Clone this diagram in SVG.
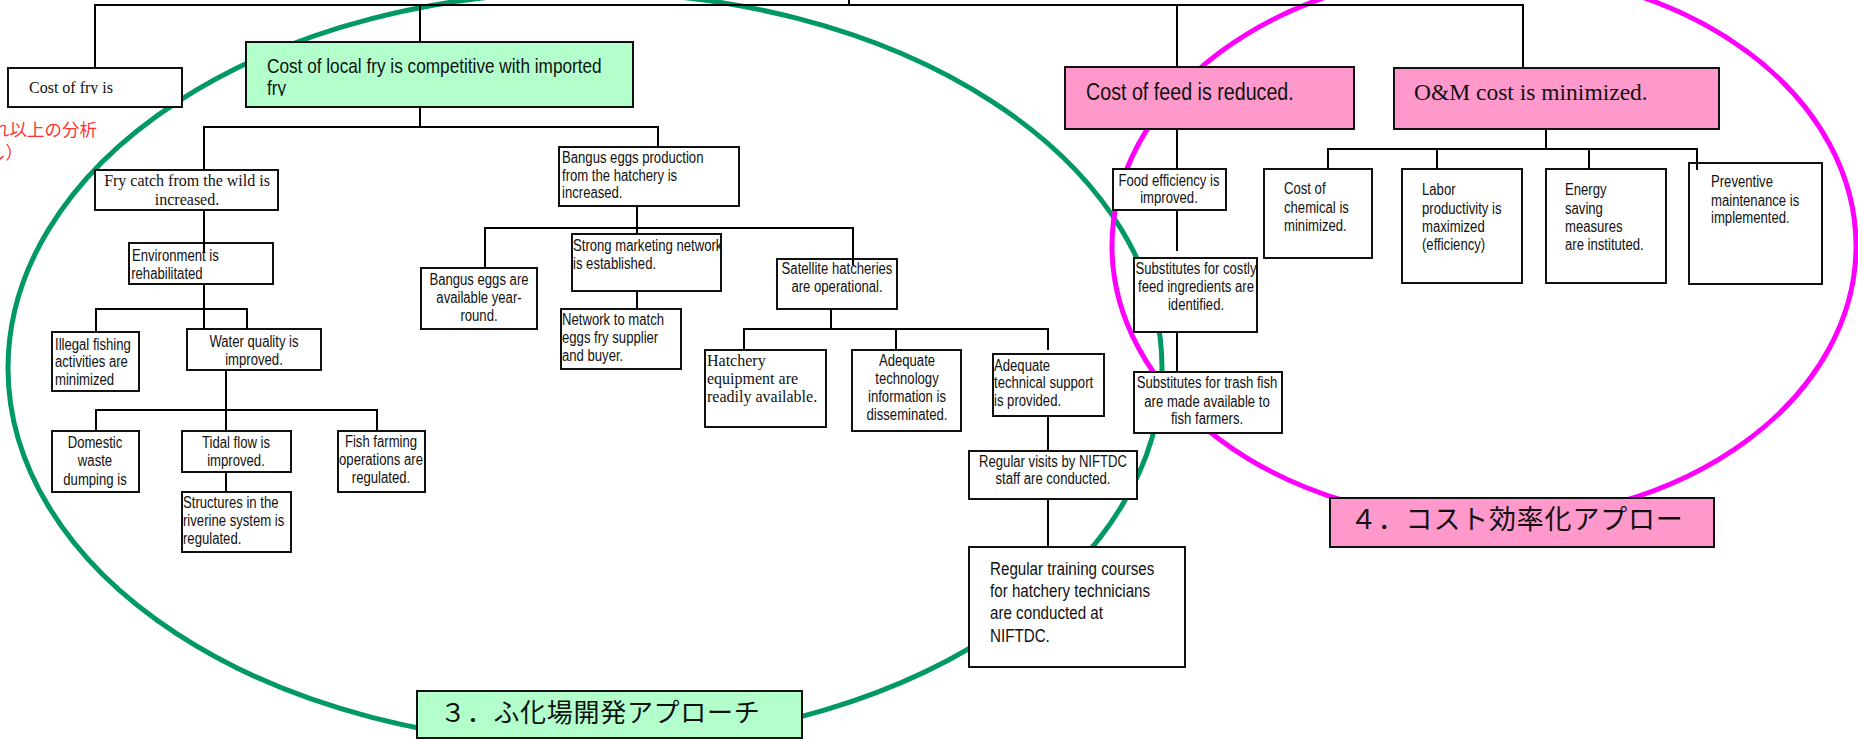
<svg xmlns="http://www.w3.org/2000/svg" width="1858" height="739" viewBox="0 0 1858 739">
<style>
.box{stroke:#111;stroke-width:2;fill:#fff}
.g{fill:#b3ffcc}
.p{fill:#ff99cc}
.c{fill:none;stroke:#000;stroke-width:2}
.n{font-family:"Liberation Sans",Arial,sans-serif;font-size:16px;fill:#111}
.s{font-family:"Liberation Serif","Times New Roman",serif;font-size:16px;fill:#111}
.m{text-anchor:middle}
.j{font-family:"Noto Sans CJK JP",sans-serif}
.el{fill:none;stroke-width:5}
</style>
<defs>
<clipPath id="clipFry1"><rect x="246" y="42" width="387" height="54"/></clipPath>
<clipPath id="clipFry2"><rect x="8" y="68" width="174" height="26"/></clipPath>
</defs>
<g id="approaches">
<ellipse class="el" cx="585" cy="368" rx="577" ry="376" stroke="#009966"/>
<ellipse class="el" cx="1484" cy="246" rx="372" ry="275" stroke="#ff00ff"/>
</g>
<g id="note">
<text class="j" fill="#f33" style="font-size:17.5px"><tspan x="-8" y="136">れ以上の分析</tspan><tspan x="-12" y="159">し）</tspan></text>
</g>
<g id="n-cost-fry"><rect class="box" x="8" y="68" width="174" height="39"/><g clip-path="url(#clipFry2)"><text class="s" x="29" y="93">Cost of fry is</text></g></g>
<g id="n-local-fry"><rect class="box g" x="246" y="42" width="387" height="65"/><g clip-path="url(#clipFry1)"><text class="n" style="font-size:21px" transform="translate(267 73) scale(.82 1)"><tspan x="0" y="0">Cost of local fry is competitive with imported</tspan><tspan x="0" y="22">fry</tspan></text></g></g>
<g id="n-fry-catch"><rect class="box" x="95" y="170" width="183" height="40"/><text class="s m"><tspan x="187" y="186">Fry catch from the wild is</tspan><tspan x="187" y="205">increased.</tspan></text></g>
<g id="n-environment"><rect class="box" x="129" y="243" width="144" height="41"/><text class="n" transform="translate(132 261) scale(.82 1)"><tspan x="0" y="0">Environment is</tspan><tspan x="-1" y="18">rehabilitated</tspan></text></g>
<g id="n-illegal"><rect class="box" x="52" y="332" width="87" height="59"/><text class="n" transform="translate(55 350) scale(.82 1)"><tspan x="0" y="0">Illegal fishing</tspan><tspan x="0" y="17.5">activities are</tspan><tspan x="0" y="35">minimized</tspan></text></g>
<g id="n-water"><rect class="box" x="187" y="329" width="134" height="41"/><text class="n m" transform="translate(254 347) scale(.82 1)"><tspan x="0" y="0">Water quality is</tspan><tspan x="0" y="18">improved.</tspan></text></g>
<g id="n-domestic"><rect class="box" x="52" y="431" width="87" height="61"/><text class="n m" transform="translate(95 448) scale(.82 1)"><tspan x="0" y="0">Domestic</tspan><tspan x="0" y="18.5">waste</tspan><tspan x="0" y="37">dumping is</tspan></text></g>
<g id="n-tidal"><rect class="box" x="182" y="431" width="109" height="41"/><text class="n m" transform="translate(236 448) scale(.82 1)"><tspan x="0" y="0">Tidal flow is</tspan><tspan x="0" y="18.5">improved.</tspan></text></g>
<g id="n-structures"><rect class="box" x="182" y="492" width="109" height="60"/><text class="n" transform="translate(183 508) scale(.82 1)"><tspan x="0" y="0">Structures in the</tspan><tspan x="0" y="18">riverine system is</tspan><tspan x="0" y="36">regulated.</tspan></text></g>
<g id="n-fish-farming"><rect class="box" x="338" y="431" width="87" height="61"/><text class="n m" transform="translate(381 447) scale(.82 1)"><tspan x="0" y="0">Fish farming</tspan><tspan x="0" y="18">operations are</tspan><tspan x="0" y="36">regulated.</tspan></text></g>
<g id="n-bangus-prod"><rect class="box" x="559" y="147" width="180" height="59"/><text class="n" transform="translate(562 163) scale(.82 1)"><tspan x="0" y="0">Bangus eggs production</tspan><tspan x="0" y="18">from the hatchery is</tspan><tspan x="0" y="35">increased.</tspan></text></g>
<g id="n-bangus-avail"><rect class="box" x="421" y="268" width="116" height="61"/><text class="n m" transform="translate(479 285) scale(.82 1)"><tspan x="0" y="0">Bangus eggs are</tspan><tspan x="0" y="18">available year-</tspan><tspan x="0" y="36">round.</tspan></text></g>
<g id="n-strong"><rect class="box" x="572" y="234" width="149" height="57"/><text class="n" transform="translate(573 251) scale(.82 1)"><tspan x="0" y="0">Strong marketing network</tspan><tspan x="0" y="18">is established.</tspan></text></g>
<g id="n-network"><rect class="box" x="561" y="309" width="120" height="60"/><text class="n" transform="translate(562 325) scale(.82 1)"><tspan x="0" y="0">Network to match</tspan><tspan x="0" y="18">eggs fry supplier</tspan><tspan x="0" y="36">and buyer.</tspan></text></g>
<g id="n-satellite"><rect class="box" x="777" y="259" width="120" height="50"/><text class="n m" transform="translate(837 274) scale(.82 1)"><tspan x="0" y="0">Satellite hatcheries</tspan><tspan x="0" y="18">are operational.</tspan></text></g>
<g id="n-hatchery"><rect class="box" x="705" y="350" width="121" height="77"/><text class="s"><tspan x="707" y="366">Hatchery</tspan><tspan x="707" y="384">equipment are</tspan><tspan x="707" y="402">readily available.</tspan></text></g>
<g id="n-adeq-tech"><rect class="box" x="852" y="350" width="109" height="81"/><text class="n m" transform="translate(907 366) scale(.82 1)"><tspan x="0" y="0">Adequate</tspan><tspan x="0" y="18">technology</tspan><tspan x="0" y="36">information is</tspan><tspan x="0" y="54">disseminated.</tspan></text></g>
<g id="n-adeq-support"><rect class="box" x="993" y="354" width="111" height="62"/><text class="n" transform="translate(994 371) scale(.82 1)"><tspan x="0" y="0">Adequate</tspan><tspan x="0" y="17.5">technical support</tspan><tspan x="0" y="35">is provided.</tspan></text></g>
<g id="n-visits"><rect class="box" x="969" y="451" width="168" height="48"/><text class="n m" transform="translate(1053 467) scale(.82 1)"><tspan x="0" y="0">Regular visits by NIFTDC</tspan><tspan x="0" y="17.5">staff are conducted.</tspan></text></g>
<g id="n-training"><rect class="box" x="969" y="547" width="216" height="120"/><text class="n" style="font-size:18.5px" transform="translate(990 575) scale(.82 1)"><tspan x="0" y="0">Regular training courses</tspan><tspan x="0" y="22">for hatchery technicians</tspan><tspan x="0" y="44">are conducted at</tspan><tspan x="0" y="67">NIFTDC.</tspan></text></g>
<g id="n-feed"><rect class="box p" x="1065" y="67" width="289" height="62"/><text class="n" style="font-size:24px" transform="translate(1086 100) scale(.82 1)">Cost of feed is reduced.</text></g>
<g id="n-om"><rect class="box p" x="1394" y="68" width="325" height="61"/><text class="s" style="font-size:23.5px" x="1414" y="100">O&amp;M cost is minimized.</text></g>
<g id="n-food"><rect class="box" x="1113" y="169" width="113" height="41"/><text class="n m" transform="translate(1169 186) scale(.82 1)"><tspan x="0" y="0">Food efficiency is</tspan><tspan x="0" y="17.5">improved.</tspan></text></g>
<g id="n-subst-costly"><rect class="box" x="1134" y="258" width="123" height="74"/><text class="n m" transform="translate(1196 274) scale(.82 1)"><tspan x="0" y="0">Substitutes for costly</tspan><tspan x="0" y="18">feed ingredients are</tspan><tspan x="0" y="36">identified.</tspan></text></g>
<g id="n-subst-trash"><rect class="box" x="1134" y="372" width="148" height="61"/><text class="n m" transform="translate(1207 388) scale(.82 1)"><tspan x="0" y="0">Substitutes for trash fish</tspan><tspan x="0" y="19">are made available to</tspan><tspan x="0" y="36">fish farmers.</tspan></text></g>
<g id="n-chemical"><rect class="box" x="1264" y="169" width="108" height="89"/><text class="n" transform="translate(1284 194) scale(.82 1)"><tspan x="0" y="0">Cost of</tspan><tspan x="0" y="19">chemical is</tspan><tspan x="0" y="37">minimized.</tspan></text></g>
<g id="n-labor"><rect class="box" x="1402" y="169" width="120" height="114"/><text class="n" transform="translate(1422 195) scale(.82 1)"><tspan x="0" y="0">Labor</tspan><tspan x="0" y="19">productivity is</tspan><tspan x="0" y="37">maximized</tspan><tspan x="0" y="55">(efficiency)</tspan></text></g>
<g id="n-energy"><rect class="box" x="1546" y="169" width="120" height="114"/><text class="n" transform="translate(1565 195) scale(.82 1)"><tspan x="0" y="0">Energy</tspan><tspan x="0" y="19">saving</tspan><tspan x="0" y="37">measures</tspan><tspan x="0" y="55">are instituted.</tspan></text></g>
<g id="n-preventive"><rect class="box" x="1689" y="163" width="133" height="121"/><text class="n" transform="translate(1711 187) scale(.82 1)"><tspan x="0" y="0">Preventive</tspan><tspan x="0" y="19">maintenance is</tspan><tspan x="0" y="36">implemented.</tspan></text></g>
<g id="label-3"><rect class="box g" x="417" y="691" width="385" height="47"/><text class="j" style="font-size:26px" letter-spacing="0.7" x="440" y="722" fill="#111">３．ふ化場開発アプローチ</text></g>
<g id="label-4"><rect class="box p" x="1330" y="498" width="384" height="49"/><text class="j" style="font-size:27px" letter-spacing="0.8" x="1350" y="529" fill="#111">４．コスト効率化アプロー</text></g>
<g id="connectors" class="c">
<path d="M95,68 V5 H1523 V68"/>
<path d="M420,5 V42"/>
<path d="M1177,5 V67"/>
<path d="M849,0 V5"/>
<path d="M420,107 V127"/>
<path d="M204,170 V127 H658 V147"/>
<path d="M204,210 V252"/>
<path d="M204,284 V329"/>
<path d="M96,332 V309 H247 V329"/>
<path d="M226,370 V431"/>
<path d="M96,431 V410 H377 V431"/>
<path d="M226,472 V492"/>
<path d="M637,206 V234"/>
<path d="M485,268 V228 H853 V265"/>
<path d="M637,291 V309"/>
<path d="M831,309 V329"/>
<path d="M744,350 V329 H1048 V350"/>
<path d="M896,329 V350"/>
<path d="M1048,416 V451"/>
<path d="M1048,499 V547"/>
<path d="M1177,129 V169"/>
<path d="M1177,210 V251"/>
<path d="M1177,332 V372"/>
<path d="M1546,129 V149"/>
<path d="M1328,169 V149 H1697 V170"/>
<path d="M1437,149 V169"/>
<path d="M1589,149 V169"/>
</g>
</svg>
